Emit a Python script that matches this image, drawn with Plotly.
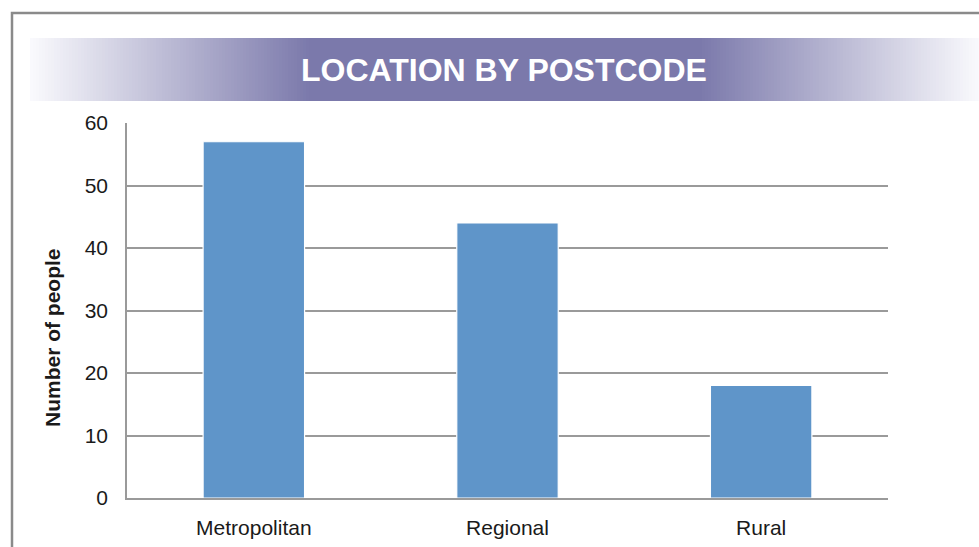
import plotly.graph_objects as go

categories = ["Metropolitan", "Regional", "Rural"]
people = [57, 44, 18]
y_ticks = [0, 10, 20, 30, 40, 50, 60]
title_text = "LOCATION BY POSTCODE"
y_title = "Number of people"

W, H = 979, 547
L, R, T, B = 127, 888, 123, 498

def px(x):
    return (x - L) / (R - L)

def py(y):
    return (B - y) / (B - T)

fig = go.Figure(go.Bar(
    x=categories, y=people,
    marker=dict(color="#5f95c9", line=dict(color="#ffffff", width=1.2)),
    width=0.4,
))

shapes = []
# outer frame
shapes.append(dict(type="rect", xref="paper", yref="paper",
                   x0=px(12), x1=px(1000), y0=py(13), y1=py(570),
                   line=dict(color="#8a8a8a", width=2.5), fillcolor="rgba(0,0,0,0)", layer="below"))

# gradient title band
c_mid = (123, 121, 171)
c_edge = (250, 250, 253)
def mix(t):
    return "rgb(%d,%d,%d)" % tuple(round(c_edge[i] + (c_mid[i] - c_edge[i]) * t) for i in range(3))

band_y0, band_y1 = 38, 101
x_start, x_full_l, x_full_r, x_end = 30, 310, 700, 980
step = 3
x = x_start
while x < x_end:
    xc = x + step / 2
    if xc < x_full_l:
        t = (xc - x_start) / (x_full_l - x_start)
    elif xc > x_full_r:
        t = (x_end - xc) / (x_end - x_full_r)
    else:
        t = 1.0
    t = max(0.0, min(1.0, t))
    shapes.append(dict(type="rect", xref="paper", yref="paper",
                       x0=px(x), x1=px(min(x + step + 0.5, x_end)), y0=py(band_y1), y1=py(band_y0),
                       line=dict(width=0), fillcolor=mix(t), layer="below"))
    x += step

font_family = "Liberation Sans, Arial, sans-serif"

fig.update_layout(
    width=W, height=H,
    margin=dict(l=L, r=W - R, t=T, b=H - B, autoexpand=False),
    paper_bgcolor="white", plot_bgcolor="white",
    showlegend=False,
    bargap=0.6,
    font=dict(family=font_family, size=21, color="#1a1a1a"),
    shapes=shapes,
    annotations=[
        dict(text="<b>%s</b>" % title_text, xref="paper", yref="paper",
             x=px(504), y=py(70), xanchor="center", yanchor="middle", showarrow=False,
             font=dict(size=32, color="white", family=font_family)),
        dict(text="<b>%s</b>" % y_title, xref="paper", yref="paper",
             x=px(52), y=py(338), xanchor="center", yanchor="middle", showarrow=False,
             textangle=-90, font=dict(size=21, color="#1a1a1a", family=font_family)),
    ],
    xaxis=dict(showgrid=False, showline=True, linecolor="#9a9a9a", linewidth=1.5, automargin=False,
               ticks="", ticklabelstandoff=10, tickfont=dict(size=21)),
    yaxis=dict(range=[0, 60], tickvals=y_ticks, showgrid=True, gridcolor="#9a9a9a", gridwidth=1.5,
               showline=True, linecolor="#9a9a9a", linewidth=1.5, zeroline=False, automargin=False,
               ticks="", ticklabelstandoff=13, tickfont=dict(size=21)),
)

fig.write_html("out.html", config={"displayModeBar": False},
               post_script="document.body.style.margin='0';document.body.style.overflow='hidden';")
